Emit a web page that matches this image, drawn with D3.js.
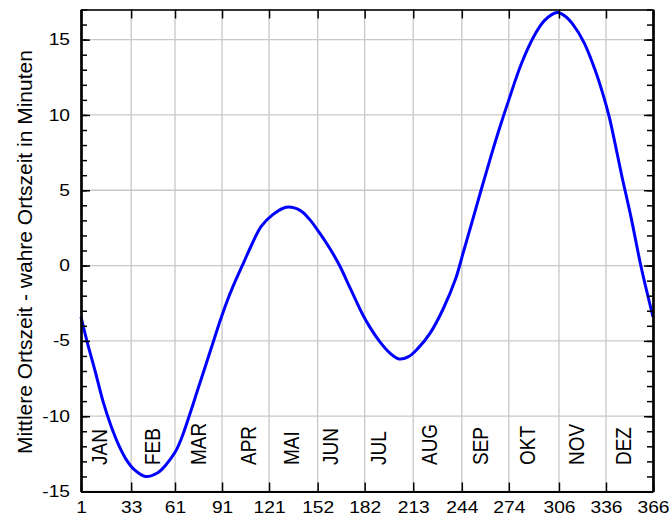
<!DOCTYPE html>
<html>
<head>
<meta charset="utf-8">
<script src="https://cdn.jsdelivr.net/npm/d3@7"></script>
<style>
  body { margin: 0; background: #fff; }
  text { font-family: "Liberation Sans", Arial, sans-serif; fill: #000; }
</style>
</head>
<body>
<div id="chart"></div>
<script>
// day of year and equation of time (minutes)
var days = [1, 5, 10, 15, 20, 25, 30, 35, 42, 50, 55, 61, 65, 70, 75, 80, 85, 90, 95, 100,
  105, 110, 116, 123, 132, 141, 147, 153, 160, 166, 173, 181, 186, 192, 198, 204, 210, 216,
  224, 232, 240, 245, 250, 256, 263, 268, 274, 282, 291, 297, 305, 310, 315, 322, 329, 334,
  338, 342, 346, 352, 358, 362, 366];
var minutes = [-3.4, -5.1, -7.0, -9.0, -10.6, -11.9, -12.9, -13.55, -14.0, -13.75, -13.25, -12.4,
  -11.5, -10.0, -8.4, -6.8, -5.2, -3.6, -2.15, -0.9, 0.25, 1.4, 2.6, 3.35, 3.87, 3.65, 3.05, 2.2,
  1.1, 0.0, -1.55, -3.3, -4.2, -5.1, -5.8, -6.2, -6.05, -5.5, -4.45, -2.9, -0.9, 0.9, 2.7, 4.9,
  7.4, 9.1, 11.0, 13.4, 15.4, 16.3, 16.8, 16.55, 16.0, 14.8, 13.0, 11.4, 9.9, 8.0, 6.0, 3.2,
  0.1, -1.7, -3.4];

var xTicks = [1, 33, 61, 91, 121, 152, 182, 213, 244, 274, 306, 336, 366];
var yTicks = [-15, -10, -5, 0, 5, 10, 15];
var months = ["JAN", "FEB", "MAR", "APR", "MAI", "JUN", "JUL", "AUG", "SEP", "OKT", "NOV", "DEZ"];
var monthDays = [12.4, 46.3, 75.9, 107.4, 135.2, 160.1, 190.7, 223.3, 255.8, 285.8, 317, 347];

var svgWidth = 669;
var svgHeight = 517;
var margin = { top: 9.5, right: 16, bottom: 25.5, left: 81 };
var width = svgWidth - margin.left - margin.right;
var height = svgHeight - margin.top - margin.bottom;

var svg = d3.select("#chart")
  .append("svg")
  .attr("width", svgWidth)
  .attr("height", svgHeight);

var chartGroup = svg.append("g")
  .attr("transform", `translate(${margin.left}, ${margin.top})`);

var xScale = d3.scaleLinear().domain([1, 366]).range([0, width]);
var yScale = d3.scaleLinear().domain([-15, 17]).range([height, 0]);

// grid
chartGroup.append("g")
  .selectAll("line")
  .data(xTicks)
  .enter()
  .append("line")
  .attr("x1", d => xScale(d))
  .attr("x2", d => xScale(d))
  .attr("y1", 0)
  .attr("y2", height)
  .attr("stroke", "#c8c8c8")
  .attr("stroke-width", 1.3);

chartGroup.append("g")
  .selectAll("line")
  .data(yTicks)
  .enter()
  .append("line")
  .attr("x1", 0)
  .attr("x2", width)
  .attr("y1", d => yScale(d))
  .attr("y2", d => yScale(d))
  .attr("stroke", "#c8c8c8")
  .attr("stroke-width", 1.3);

// month labels
chartGroup.append("g")
  .selectAll("text")
  .data(months)
  .enter()
  .append("text")
  .attr("transform", (d, i) => `translate(${xScale(monthDays[i])}, ${465 - margin.top}) scale(1.2,1) rotate(-90)`)
  .attr("dy", "0.35em")
  .attr("text-anchor", "start")
  .style("font-size", "19px")
  .text(d => d);

// curve
var line = d3.line()
  .x((d, i) => xScale(days[i]))
  .y(d => yScale(d))
  .curve(d3.curveCatmullRom.alpha(0.5));

chartGroup.append("path")
  .datum(minutes)
  .attr("d", line)
  .attr("fill", "none")
  .attr("stroke", "#0000ff")
  .attr("stroke-width", 3);

// axes
var minorY = d3.range(-15, 18);

function styleAxis(g, color) {
  g.select(".domain").attr("stroke", color).attr("stroke-width", 2.2);
  g.selectAll(".tick line").attr("stroke", "#000").attr("stroke-width", 1.5);
}

var bottomAxis = chartGroup.append("g")
  .attr("transform", `translate(0, ${height})`)
  .call(d3.axisBottom(xScale).tickValues(xTicks).tickSizeInner(-9).tickSizeOuter(0).tickPadding(10));
styleAxis(bottomAxis, "#000");

var topAxis = chartGroup.append("g")
  .call(d3.axisTop(xScale).tickValues(xTicks).tickSizeInner(-9).tickSizeOuter(0).tickFormat(""));
styleAxis(topAxis, "#333");

chartGroup.append("g")
  .call(d3.axisLeft(yScale).tickValues(minorY).tickSizeInner(-6).tickSizeOuter(0).tickFormat(""))
  .call(g => styleAxis(g, "#000"));

var leftAxis = chartGroup.append("g")
  .call(d3.axisLeft(yScale).tickValues(yTicks).tickSizeInner(-9).tickSizeOuter(0).tickPadding(11)
    .tickFormat(d => String(d)));
styleAxis(leftAxis, "#000");

chartGroup.append("g")
  .attr("transform", `translate(${width}, 0)`)
  .call(d3.axisRight(yScale).tickValues(minorY).tickSizeInner(-6).tickSizeOuter(0).tickFormat(""))
  .call(g => styleAxis(g, "#000"));

chartGroup.append("g")
  .attr("transform", `translate(${width}, 0)`)
  .call(d3.axisRight(yScale).tickValues(yTicks).tickSizeInner(-9).tickSizeOuter(0).tickFormat(""))
  .call(g => styleAxis(g, "#000"));

// tick label font: a bit wide, like the original
chartGroup.selectAll(".tick text")
  .attr("font-family", null)
  .attr("font-size", null)
  .style("font-size", "16px")
  .attr("transform", "scale(1.2,1)");
leftAxis.selectAll(".tick text").attr("x", -11 / 1.2);

// y axis title
svg.append("text")
  .attr("transform", "translate(24.5, 252) rotate(-90)")
  .attr("dy", "0.35em")
  .attr("text-anchor", "middle")
  .style("font-size", "21px")
  .text("Mittlere Ortszeit - wahre Ortszeit in Minuten");
</script>
</body>
</html>
